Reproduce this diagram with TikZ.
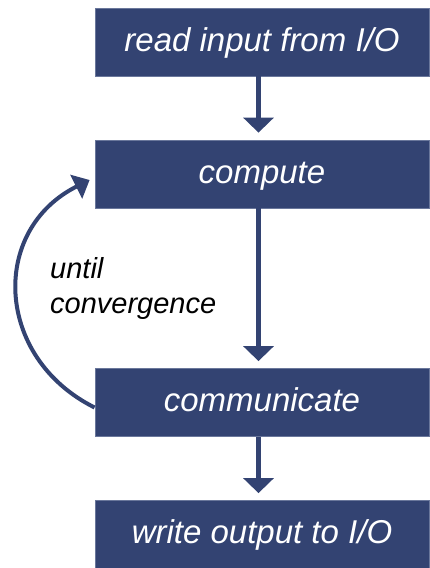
\documentclass[tikz,border=0pt]{standalone}
\usepackage{fontspec}
\setmainfont{Liberation Sans}
\usetikzlibrary{arrows.meta}
\definecolor{boxblue}{HTML}{334372}
\definecolor{boxedge}{HTML}{6A779B}
\begin{document}
\begin{tikzpicture}[x=1pt,y=1pt,
  stepbox/.style={fill=boxblue, draw=boxedge, line width=0.8pt,
    minimum width=334pt, minimum height=68pt, inner sep=0pt,
    text height=24pt, text depth=6pt, text=white,
    font=\fontsize{33}{40}\selectfont\itshape},
  flow/.style={draw=boxblue, line width=5pt,
    -{Triangle[width=30pt,length=15pt]}, shorten >=7pt},
  loopback/.style={draw=boxblue, line width=4pt,
    -{Triangle[width=26pt,length=15pt]}},
  note/.style={anchor=base west, align=left, inner sep=0pt,
    font=\fontsize{29}{35}\selectfont\itshape}]
\useasboundingbox (0,0) rectangle (429,-568);

% processing steps
\node[stepbox] (read) at (262,-42)    {read input from I/O};
\node[stepbox] (comp) at (262,-174)   {compute};
\node[stepbox] (comm) at (262,-402.5) {communicate};
\node[stepbox] (write) at (262,-534.5) {write output to I/O};

% straight flow
\draw[flow] ([xshift=-3.5pt]read.south) -- ([xshift=-3.5pt]comp.north);
\draw[flow] ([xshift=-3.5pt]comp.south) -- ([xshift=-3.5pt]comm.north);
\draw[flow] ([xshift=-3.5pt]comm.south) -- ([xshift=-3.5pt]write.north);

% iteration loop
\draw[loopback] ([yshift=-5pt]comm.west)
  .. controls +(-100,50) and +(-100,-50) .. ([xshift=-5pt,yshift=-6pt]comp.west);
\node[note] (cond) at (50,-313) {until\\convergence};
\end{tikzpicture}
\end{document}
